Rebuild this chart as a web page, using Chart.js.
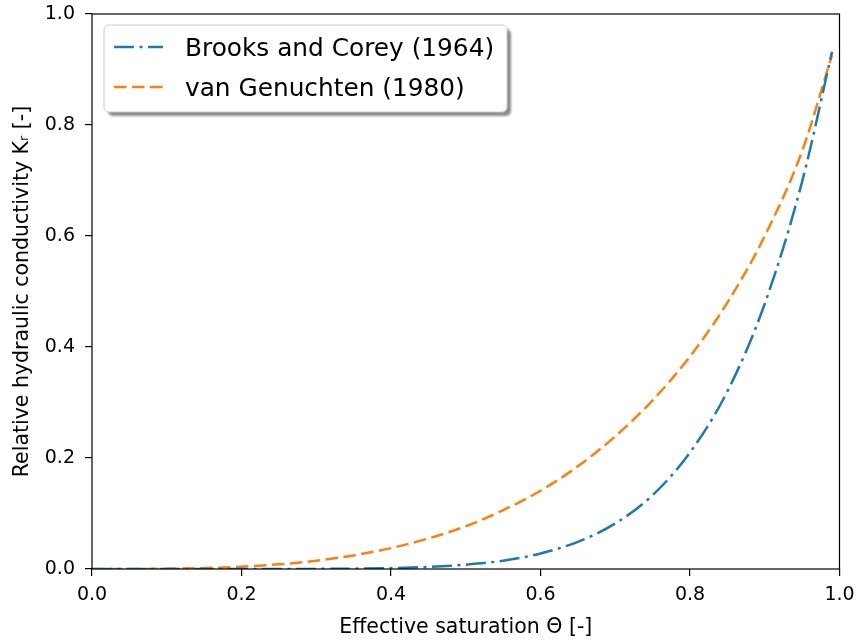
<!DOCTYPE html>
<html>
<head>
<meta charset="utf-8">
<script src="https://cdn.jsdelivr.net/npm/chart.js@4.4.1/dist/chart.umd.min.js"></script>
<style>
  html, body { margin: 0; padding: 0; background: #fff; }
  .wrap { position: relative; width: 856px; height: 641px; }
</style>
</head>
<body>
<div class="wrap"><canvas id="kChart"></canvas></div>
<script>
// effective saturation (x) and relative conductivity
const saturation = [0, 0.05, 0.1, 0.15, 0.2, 0.25, 0.3, 0.35, 0.4, 0.45, 0.5,
                    0.55, 0.6, 0.65, 0.7, 0.75, 0.8, 0.85, 0.9, 0.95, 0.99];
const brooksCorey = [0, 0, 0, 0.000002, 0.00001, 0.00006, 0.0002, 0.0006, 0.0016, 0.0037, 0.0078,
                     0.015, 0.028, 0.049, 0.082, 0.133, 0.21, 0.32, 0.478, 0.698, 0.932];
const vanGenuchten = [0, 0.0001, 0.0005, 0.0017, 0.0042, 0.0084, 0.015, 0.0245, 0.0376, 0.055, 0.077,
                      0.106, 0.141, 0.185, 0.239, 0.304, 0.383, 0.48, 0.6, 0.753, 0.926];
const xTicks = [0, 0.2, 0.4, 0.6, 0.8, 1.0];
const yTicks = [0, 0.2, 0.4, 0.6, 0.8, 1.0];
const seriesNames = ['Brooks and Corey (1964)', 'van Genuchten (1980)'];

const blue = '#1f77b4';
const orange = '#ff7f0e';
const dashBlue = [20, 5.5, 3, 5.5];
const dashOrange = [12.5, 5.5];

Chart.defaults.font.family = '"DejaVu Sans", sans-serif';
Chart.defaults.color = '#000';

const toPoints = ys => saturation.map((x, i) => ({ x: x, y: ys[i] }));

// axes frame + matplotlib style legend with shadow
const frameAndLegend = {
    id: 'frameAndLegend',
    afterDraw(chart) {
        const ctx = chart.ctx;
        const a = chart.chartArea;
        ctx.save();
        ctx.strokeStyle = '#000';
        ctx.lineWidth = 1.2;
        ctx.strokeRect(a.left, a.top, a.right - a.left, a.bottom - a.top);

        const bx = 104, by = 25, bw = 403, bh = 87, r = 5;
        const rounded = (x, y) => {
            ctx.beginPath();
            ctx.moveTo(x + r, y);
            ctx.lineTo(x + bw - r, y);
            ctx.arcTo(x + bw, y, x + bw, y + r, r);
            ctx.lineTo(x + bw, y + bh - r);
            ctx.arcTo(x + bw, y + bh, x + bw - r, y + bh, r);
            ctx.lineTo(x + r, y + bh);
            ctx.arcTo(x, y + bh, x, y + bh - r, r);
            ctx.lineTo(x, y + r);
            ctx.arcTo(x, y, x + r, y, r);
            ctx.closePath();
        };
        ctx.filter = 'blur(1px)';
        ctx.fillStyle = 'rgba(0,0,0,0.45)';
        rounded(bx + 4, by + 4);
        ctx.fill();
        ctx.filter = 'none';
        ctx.fillStyle = '#fff';
        ctx.strokeStyle = '#cccccc';
        ctx.lineWidth = 1;
        rounded(bx, by);
        ctx.fill();
        ctx.stroke();

        const rows = [47, 87];
        chart.data.datasets.forEach((ds, i) => {
            const y = rows[i];
            ctx.strokeStyle = ds.borderColor;
            ctx.lineWidth = ds.borderWidth;
            ctx.lineCap = 'butt';
            ctx.setLineDash(ds.borderDash);
            ctx.beginPath();
            ctx.moveTo(114, y);
            ctx.lineTo(163, y);
            ctx.stroke();
            ctx.setLineDash([]);
            ctx.fillStyle = '#000';
            ctx.font = '24.8px "DejaVu Sans"';
            ctx.textBaseline = 'alphabetic';
            ctx.fillText(ds.label, 185, y + 9);
        });
        ctx.restore();
    }
};

new Chart(document.getElementById('kChart'), {
    type: 'line',
    data: {
        datasets: [{
            label: seriesNames[0],
            data: toPoints(brooksCorey),
            borderColor: blue,
            borderWidth: 2.5,
            borderDash: dashBlue,
            borderCapStyle: 'butt',
            pointRadius: 0,
            fill: false,
            cubicInterpolationMode: 'monotone'
        }, {
            label: seriesNames[1],
            data: toPoints(vanGenuchten),
            borderColor: orange,
            borderWidth: 2.5,
            borderDash: dashOrange,
            borderCapStyle: 'butt',
            pointRadius: 0,
            fill: false,
            cubicInterpolationMode: 'monotone'
        }]
    },
    options: {
        responsive: true,
        maintainAspectRatio: false,
        animation: false,
        devicePixelRatio: 1,
        layout: { padding: { left: 0, top: 14, right: 16.5, bottom: 0 } },
        plugins: {
            legend: { display: false },
            tooltip: { enabled: false }
        },
        scales: {
            x: {
                type: 'linear',
                min: 0,
                max: 1,
                afterBuildTicks: scale => { scale.ticks = xTicks.map(v => ({ value: v })); },
                afterFit: scale => {
                    scale.height = 72;
                    scale.paddingLeft = 0;
                    scale.paddingRight = 0;
                },
                ticks: {
                    font: { size: 19 },
                    padding: 8,
                    maxRotation: 0,
                    callback: v => v.toFixed(1)
                },
                grid: {
                    display: true,
                    drawOnChartArea: false,
                    drawTicks: true,
                    tickLength: 7,
                    color: '#000',
                    lineWidth: 1.2
                },
                border: { display: false },
                title: {
                    display: true,
                    text: 'Effective saturation Θ [-]',
                    font: { size: 20.5 },
                    padding: { top: 4, bottom: 1 }
                }
            },
            y: {
                type: 'linear',
                min: 0,
                max: 1,
                afterBuildTicks: scale => { scale.ticks = yTicks.map(v => ({ value: v })); },
                afterFit: scale => {
                    scale.width = 92;
                    scale.paddingTop = 0;
                    scale.paddingBottom = 0;
                },
                ticks: {
                    font: { size: 19 },
                    padding: 10,
                    callback: v => v.toFixed(1)
                },
                grid: {
                    display: true,
                    drawOnChartArea: false,
                    drawTicks: true,
                    tickLength: 7,
                    color: '#000',
                    lineWidth: 1.2
                },
                border: { display: false },
                title: {
                    display: true,
                    text: 'Relative hydraulic conductivity Kᵣ [-]',
                    font: { size: 20.5 },
                    padding: { top: 10, bottom: 0 }
                }
            }
        }
    },
    plugins: [frameAndLegend]
});
</script>
</body>
</html>
